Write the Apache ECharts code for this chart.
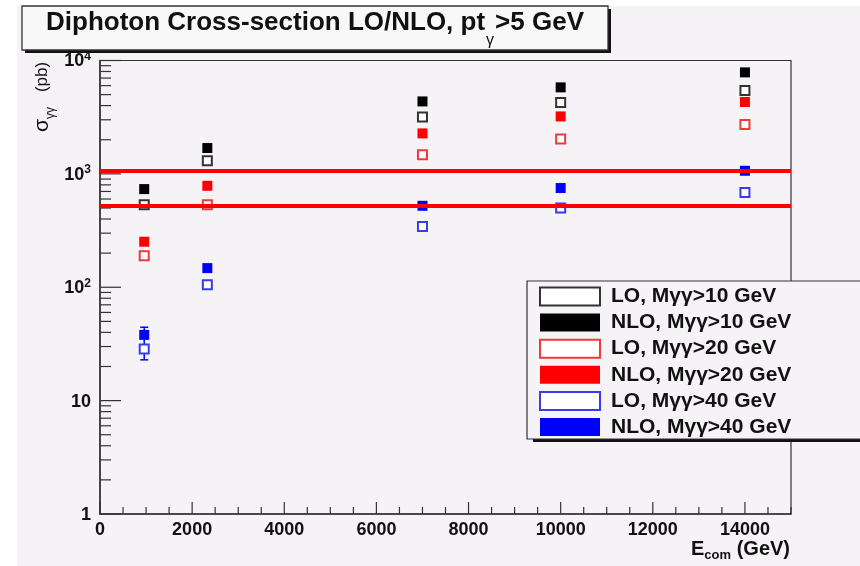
<!DOCTYPE html>
<html><head><meta charset="utf-8">
<script src="https://cdn.jsdelivr.net/npm/echarts@6/dist/echarts.min.js"></script>
<style>html,body{margin:0;padding:0;background:#fff;}#c{width:860px;height:566px;}</style>
</head><body><div id="c"></div>
<script>
// ---------- data ----------
const energies = [960, 2330, 7000, 10000, 14000];          // E_com (GeV)
const loM10  = [534, 1306, 3170, 4265, 5450];
const nloM10 = [734, 1690, 4355, 5795, 7855];
const loM20  = [190, 534, 1475, 2028, 2730];
const nloM20 = [252, 785, 2275, 3212, 4305];
const loM40  = [28.6, 105, 343, 499, 685];
const nloM40 = [38, 147.5, 523, 750, 1065];
const errE = [960];
const errLow = [22.9];
const errHigh = [44.4];
const refLines = [1065, 523];
const seriesNames = ['LO, Mγγ>10 GeV', 'NLO, Mγγ>10 GeV', 'LO, Mγγ>20 GeV',
                     'NLO, Mγγ>20 GeV', 'LO, Mγγ>40 GeV', 'NLO, Mγγ>40 GeV'];
const xTickLabels = [0, 2000, 4000, 6000, 8000, 10000, 12000, 14000];

// ---------- helpers ----------
const FF = '"Liberation Sans", Arial, sans-serif';
const mctx = document.createElement('canvas').getContext('2d');
function tw(t, font) { mctx.font = font; return mctx.measureText(t).width; }
function composite(parts, ax, ay, align, z) {
  const w = parts.map(p => tw(p.text, p.font) + (p.gap || 0));
  const total = w.reduce((a, b) => a + b, 0);
  let x = align === 'center' ? ax - total / 2 : align === 'right' ? ax - total : ax;
  return parts.map((p, i) => {
    x += (p.gap || 0);
    const el = { type: 'text', x: x, y: ay + (p.dy || 0), z: z || 10,
      style: { text: p.text, font: p.font, fill: p.fill || '#111',
               textAlign: 'left', textVerticalAlign: 'middle', align: 'left', verticalAlign: 'middle' } };
    x += w[i] - (p.gap || 0);
    return el;
  });
}
const pairs = arr => energies.map((e, i) => [e, arr[i]]);

// tick marks (ROOT style, inside)
const yTickData = [];
for (let k = 0; k < 4; k++) for (let m = 1; m <= 9; m++) yTickData.push([0, m * Math.pow(10, k), m === 1 ? 21 : 11]);
yTickData.push([0, 10000, 21]);
const xTickData = [];
for (let v = 0; v <= 15000; v += 500) xTickData.push([v, 1, v % 2000 === 0 ? 12 : 7]);

function filled(name, color, arr) {
  return { name, type: 'scatter', data: pairs(arr), symbol: 'rect', symbolSize: 10, z: 2,
    itemStyle: { color: color, borderWidth: 0, opacity: 1 }, silent: true };
}
function open(name, color, arr) {
  return { name, type: 'scatter', data: pairs(arr), symbol: 'rect', symbolSize: 9, z: 2,
    itemStyle: { color: '#ffffff', borderColor: color, borderWidth: 2, opacity: 1 }, silent: true };
}

const chart = echarts.init(document.getElementById('c'), null, { renderer: 'canvas' });

const titleParts = [
  { text: 'Diphoton Cross-section LO/NLO, pt', font: 'bold 26px ' + FF },
  { text: 'γ', font: '16px ' + FF, dy: 18, gap: 1 },
  { text: '>5 GeV', font: 'bold 26px ' + FF, gap: 1 }
];
const xTitleParts = [
  { text: 'E', font: 'bold 20px ' + FF },
  { text: 'com', font: 'bold 13px ' + FF, dy: 6 },
  { text: ' (GeV)', font: 'bold 20px ' + FF }
];
const yTitleParts = [
  { text: 'σ', font: '21px ' + FF },
  { text: 'γγ', font: '12px ' + FF, dy: 9 },
  { text: '(pb)', font: '17px ' + FF, gap: 15 }
];

const option = {
  backgroundColor: '#f6f3f6',
  animation: false,
  grid: { left: 100, right: 69, top: 60.5, bottom: 52, show: true, borderColor: '#333', borderWidth: 1.2 },
  xAxis: {
    type: 'value', min: 0, max: 15000, interval: 2000,
    axisLine: { lineStyle: { color: '#333', width: 1.5 } },
    axisTick: { show: false }, splitLine: { show: false },
    axisLabel: { fontFamily: FF, fontWeight: 'bold', fontSize: 18, color: '#111', margin: 7,
      showMaxLabel: false, formatter: v => xTickLabels.indexOf(v) >= 0 ? String(v) : '' }
  },
  yAxis: {
    type: 'log', logBase: 10, min: 1, max: 10000,
    axisLine: { show: true, lineStyle: { color: '#333', width: 1.5 } },
    axisTick: { show: false }, splitLine: { show: false }, minorTick: { show: false },
    axisLabel: {
      margin: 9, showMinLabel: true, showMaxLabel: true,
      formatter: v => {
        const e = Math.round(Math.log10(v));
        if (e === 0) return '{n|1}';
        if (e === 1) return '{n|10}';
        return '{n|10}{e|' + e + '}';
      },
      rich: {
        n: { fontFamily: FF, fontWeight: 'bold', fontSize: 18, color: '#111', lineHeight: 20, verticalAlign: 'bottom' },
        e: { fontFamily: FF, fontWeight: 'bold', fontSize: 12, color: '#111', lineHeight: 12, verticalAlign: 'top' }
      }
    }
  },
  legend: {
    data: seriesNames, orient: 'vertical', left: 534, top: 281, itemWidth: 60, itemHeight: 18,
    itemGap: 5.1, icon: 'rect', selectedMode: false, z: 20,
    itemStyle: { opacity: 1 },
    textStyle: { fontFamily: FF, fontWeight: 'bold', fontSize: 21, color: '#111', lineHeight: 18, padding: [0, 0, 0, 6] }
  },
  graphic: [
    { type: 'rect', shape: { x: 0, y: 0, width: 860, height: 6 }, style: { fill: '#ffffff' }, z: 1 },
    { type: 'rect', shape: { x: 0, y: 0, width: 17, height: 566 }, style: { fill: '#ffffff' }, z: 1 },
    { type: 'rect', shape: { x: 25, y: 9, width: 586, height: 44 }, style: { fill: '#111' }, z: 8 },
    { type: 'rect', shape: { x: 22, y: 6, width: 586, height: 44 }, style: { fill: '#f9f8f9', stroke: '#333', lineWidth: 1.3 }, z: 9 },
    ...composite(titleParts, 315, 23, 'center', 10),
    ...composite(xTitleParts, 790, 549, 'right', 10),
    { type: 'group', x: 42, y: 132, rotation: Math.PI / 2, z: 10,
      children: composite(yTitleParts, 0, 0, 'left', 10) },
    { type: 'rect', shape: { x: 533, y: 284, width: 340, height: 158 }, style: { fill: '#111' }, z: 14 },
    { type: 'rect', shape: { x: 527, y: 281, width: 340, height: 158 }, style: { fill: '#f6f3f6', stroke: '#333', lineWidth: 1.2 }, z: 15 }
  ],
  series: [
    { name: 'xticks', type: 'custom', data: xTickData, clip: false, silent: true, z: 1,
      renderItem: (params, api) => {
        const p = api.coord([api.value(0), api.value(1)]);
        return { type: 'line', shape: { x1: p[0], y1: p[1], x2: p[0], y2: p[1] - api.value(2) },
                 style: { stroke: '#333', lineWidth: 1.2 } };
      } },
    { name: 'yticks', type: 'custom', data: yTickData, clip: false, silent: true, z: 1,
      renderItem: (params, api) => {
        const p = api.coord([api.value(0), api.value(1)]);
        return { type: 'line', shape: { x1: p[0], y1: p[1], x2: p[0] + api.value(2), y2: p[1] },
                 style: { stroke: '#333', lineWidth: 1.2 } };
      } },
    { name: 'err', type: 'custom', silent: true, z: 1,
      data: errE.map((e, i) => [e, errLow[i], errHigh[i]]),
      encode: { x: 0, y: [1, 2] },
      renderItem: (params, api) => {
        const lo = api.coord([api.value(0), api.value(1)]);
        const hi = api.coord([api.value(0), api.value(2)]);
        const st = { stroke: '#0000ff', lineWidth: 1.5 };
        return { type: 'group', children: [
          { type: 'line', shape: { x1: lo[0], y1: lo[1], x2: hi[0], y2: hi[1] }, style: st },
          { type: 'line', shape: { x1: lo[0] - 4, y1: lo[1], x2: lo[0] + 4, y2: lo[1] }, style: st },
          { type: 'line', shape: { x1: hi[0] - 4, y1: hi[1], x2: hi[0] + 4, y2: hi[1] }, style: st }
        ] };
      } },
    open(seriesNames[0], '#333333', loM10),
    filled(seriesNames[1], '#000000', nloM10),
    open(seriesNames[2], '#f03a3a', loM20),
    filled(seriesNames[3], '#ff0000', nloM20),
    open(seriesNames[4], '#3a3aee', loM40),
    filled(seriesNames[5], '#0000ff', nloM40),
    { name: 'refs', type: 'scatter', data: [], z: 3, silent: true,
      markLine: { silent: true, symbol: ['none', 'none'], label: { show: false },
        lineStyle: { color: '#ff0000', width: 4, type: 'solid', opacity: 1 },
        emphasis: { disabled: true },
        data: refLines.map(v => ({ yAxis: v })) } }
  ]
};
chart.setOption(option);
</script>
</body></html>
